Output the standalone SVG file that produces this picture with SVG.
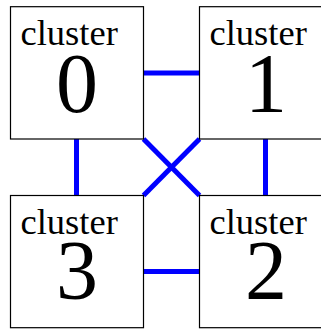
<svg xmlns="http://www.w3.org/2000/svg" width="321" height="329" viewBox="0 0 321 329">
<style>
.box{fill:#fff;stroke:#000;stroke-width:1.2}
.lbl{font-family:"Liberation Serif",serif;font-size:36.5px;fill:#000}
.num{font-family:"Liberation Serif",serif;font-size:84px;fill:#000;text-anchor:middle}
.edge{stroke:#0000ff;stroke-width:5;fill:none}
</style>
<rect width="321" height="329" fill="#fff"/>
<g id="connectors">
<line class="edge" x1="143.5" y1="73" x2="199.5" y2="73"/>
<line class="edge" x1="143.5" y1="271.5" x2="199.5" y2="271.5"/>
<line class="edge" x1="76.5" y1="139" x2="76.5" y2="195.5"/>
<line class="edge" x1="265.5" y1="139" x2="265.5" y2="195.5"/>
<line class="edge" x1="143.5" y1="139" x2="199.5" y2="195.5"/>
<line class="edge" x1="199.5" y1="139" x2="143.5" y2="195.5"/>
</g>
<g id="cluster0">
<rect class="box" x="10.5" y="6.7" width="133" height="132.3"/>
<text class="lbl" x="20.5" y="45">cluster</text>
<text class="num" x="77" y="112">0</text>
</g>
<g id="cluster1">
<rect class="box" x="199.5" y="6.7" width="133" height="132.3"/>
<text class="lbl" x="209.5" y="45">cluster</text>
<text class="num" x="266" y="112">1</text>
</g>
<g id="cluster3">
<rect class="box" x="10.5" y="195.5" width="133" height="132.2"/>
<text class="lbl" x="20.5" y="233.5">cluster</text>
<text class="num" x="77" y="298.5">3</text>
</g>
<g id="cluster2">
<rect class="box" x="199.5" y="195.5" width="133" height="132.2"/>
<text class="lbl" x="209.5" y="233.5">cluster</text>
<text class="num" x="266" y="298.5">2</text>
</g>
</svg>
